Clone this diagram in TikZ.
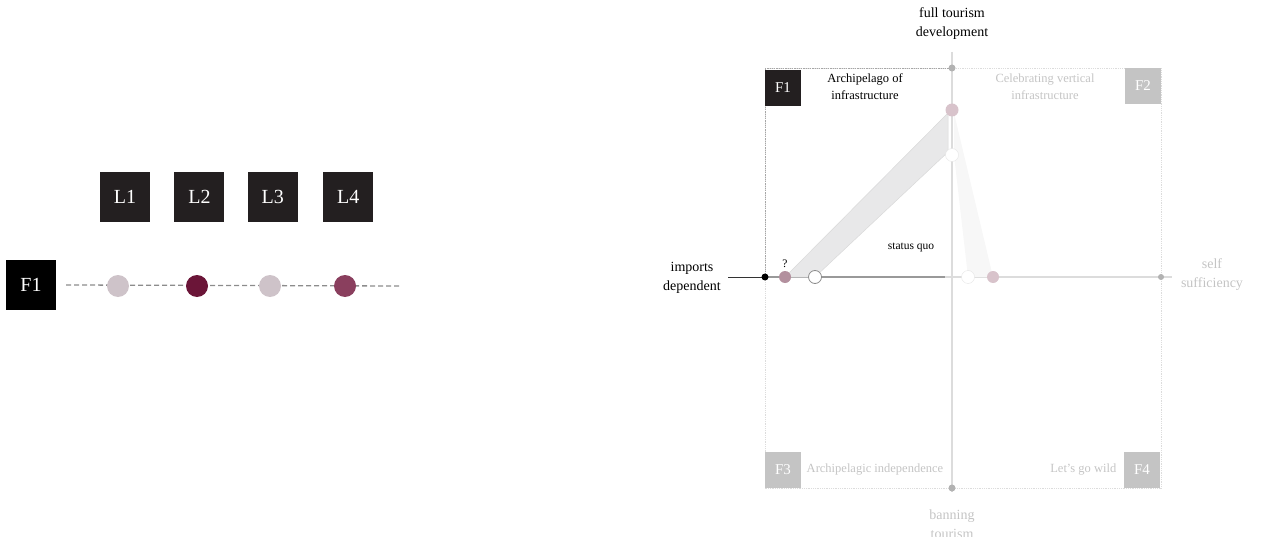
\documentclass[tikz,border=0pt]{standalone}
\usepackage{fontspec}
\setmainfont{Liberation Serif}
\usetikzlibrary{positioning}

\definecolor{boxdark}{HTML}{231F20}
\definecolor{boxgray}{HTML}{C4C4C4}
\definecolor{wine}{HTML}{6B1538}
\definecolor{plum}{HTML}{8A3F5E}
\definecolor{mauve}{HTML}{CEC3C9}
\definecolor{rose}{HTML}{B3909E}
\definecolor{paleRose}{HTML}{D8C3CB}
\definecolor{axisgray}{HTML}{DCDCDC}
\definecolor{fainttext}{HTML}{C4C4C4}
\definecolor{band}{HTML}{E8E8E9}

\begin{document}
\begin{tikzpicture}[x=1pt, y=-1pt, node distance=24pt,
    lbox/.style={fill=boxdark, text=white, minimum size=50pt, inner sep=0pt, font=\fontsize{20}{20}\selectfont},
    fbox/.style={fill=boxgray, text=white, minimum size=36pt, inner sep=0pt, font=\fontsize{15}{15}\selectfont},
    dot/.style={circle, inner sep=0pt, minimum size=#1},
    label/.style={align=center, font=\fontsize{14}{19}\selectfont},
    small/.style={align=center, font=\fontsize{12.5}{17}\selectfont},
    faint/.style={text=fainttext},
    frame/.style={densely dotted, draw=axisgray, line width=0.8pt}]
    \useasboundingbox (0,0) rectangle (1265,537);

    % levels and the F1 row
    \node[lbox] (l1) at (125,197) {L1};
    \node[lbox, right=of l1] (l2) {L2};
    \node[lbox, right=23pt of l2] (l3) {L3};
    \node[lbox, right=25pt of l3] (l4) {L4};
    \node[lbox, fill=black] (f1row) at (31,285) {F1};

    \coordinate (rowend) at (402,286);
    \draw[gray!90, line width=1.3pt, dash pattern=on 5pt off 3pt] ([xshift=10pt]f1row.east) -- (rowend);
    \node[dot=22pt, fill=mauve] (d1) at (118,286) {};
    \node[dot=22pt, fill=wine] (d2) at (197,286) {};
    \node[dot=22pt, fill=mauve] (d3) at (270,286) {};
    \node[dot=22pt, fill=plum] (d4) at (345,286) {};

    % quadrant frame and axes
    \draw[frame] (765,68) rectangle (1161,488);
    \draw[densely dotted, draw=gray!70, line width=0.8pt] (765,277) -- (765,68) -- (952,68);
    \coordinate (ytop) at (952,52);
    \coordinate (ybot) at (952,492);
    \coordinate (xleft) at (728,277);
    \coordinate (xright) at (1172,277);
    \coordinate (xmid) at (945,277);
    \draw[axisgray, line width=1.5pt] (ytop) -- (ybot);
    \draw[axisgray, line width=1.2pt] (xmid) -- (xright);
    \draw[gray!80, line width=1.2pt] (765,277) -- (xmid);
    \draw[black!80, line width=1pt] (xleft) -- (765,277);

    % status quo bands
    \fill[black!3] (954,113) -- (993,277) -- (968,277) -- (954,155) -- cycle;
    \filldraw[fill=band, draw=black!15, line width=0.5pt] (785,277) -- (948,113) -- (948,152) -- (815,277) -- cycle;

    % axis end points
    \node[dot=7pt, fill=black!30] (ntop) at (952,68) {};
    \node[dot=7pt, fill=black!30] (nbot) at (952,488) {};
    \node[dot=7pt, fill=black] (nwest) at (765,277) {};
    \node[dot=6pt, fill=black!30] (neast) at (1161,277) {};

    % positions on the axes
    \node[dot=12pt, fill=rose] (imp) at (785,277) {};
    \node[dot=13pt, fill=white, draw=black!45, line width=0.8pt] (impnow) at (815,277) {};
    \node[dot=13pt, fill=paleRose] (dev) at (952,110) {};
    \node[dot=13pt, fill=white, draw=black!10] (devnow) at (952,155) {};
    \node[dot=13pt, fill=white, draw=black!10] (selfnow) at (968,277) {};
    \node[dot=12pt, fill=paleRose] (self) at (993,277) {};

    % quadrant boxes
    \node[fbox, fill=boxdark] (f1) at (783,88) {F1};
    \node[fbox] (f2) at (1143,86) {F2};
    \node[fbox] (f3) at (783,470) {F3};
    \node[fbox] (f4) at (1142,470) {F4};

    % texts
    \node[small] (q1) at (865,87) {Archipelago of\\infrastructure};
    \node[small, faint] (q2) at (1045,87) {Celebrating vertical\\infrastructure};
    \node[small, faint, right=2pt of f3] (q3) {Archipelagic independence};
    \node[small, faint, left=4pt of f4] (q4) {Let's go wild};
    \node[label] (tdev) at (952,24) {full tourism\\development};
    \node[label, faint] (tban) at (952,524) {banning\\tourism};
    \node[label] (timp) at (692,278) {imports\\dependent};
    \node[label, faint] (tself) at (1212,275) {self\\sufficiency};
    \node[font=\fontsize{11.5}{13}\selectfont] (sq) at (911,247) {status quo};
    \node[font=\fontsize{11.5}{13}\selectfont, above=0pt of imp] (qm) {?};
\end{tikzpicture}
\end{document}
